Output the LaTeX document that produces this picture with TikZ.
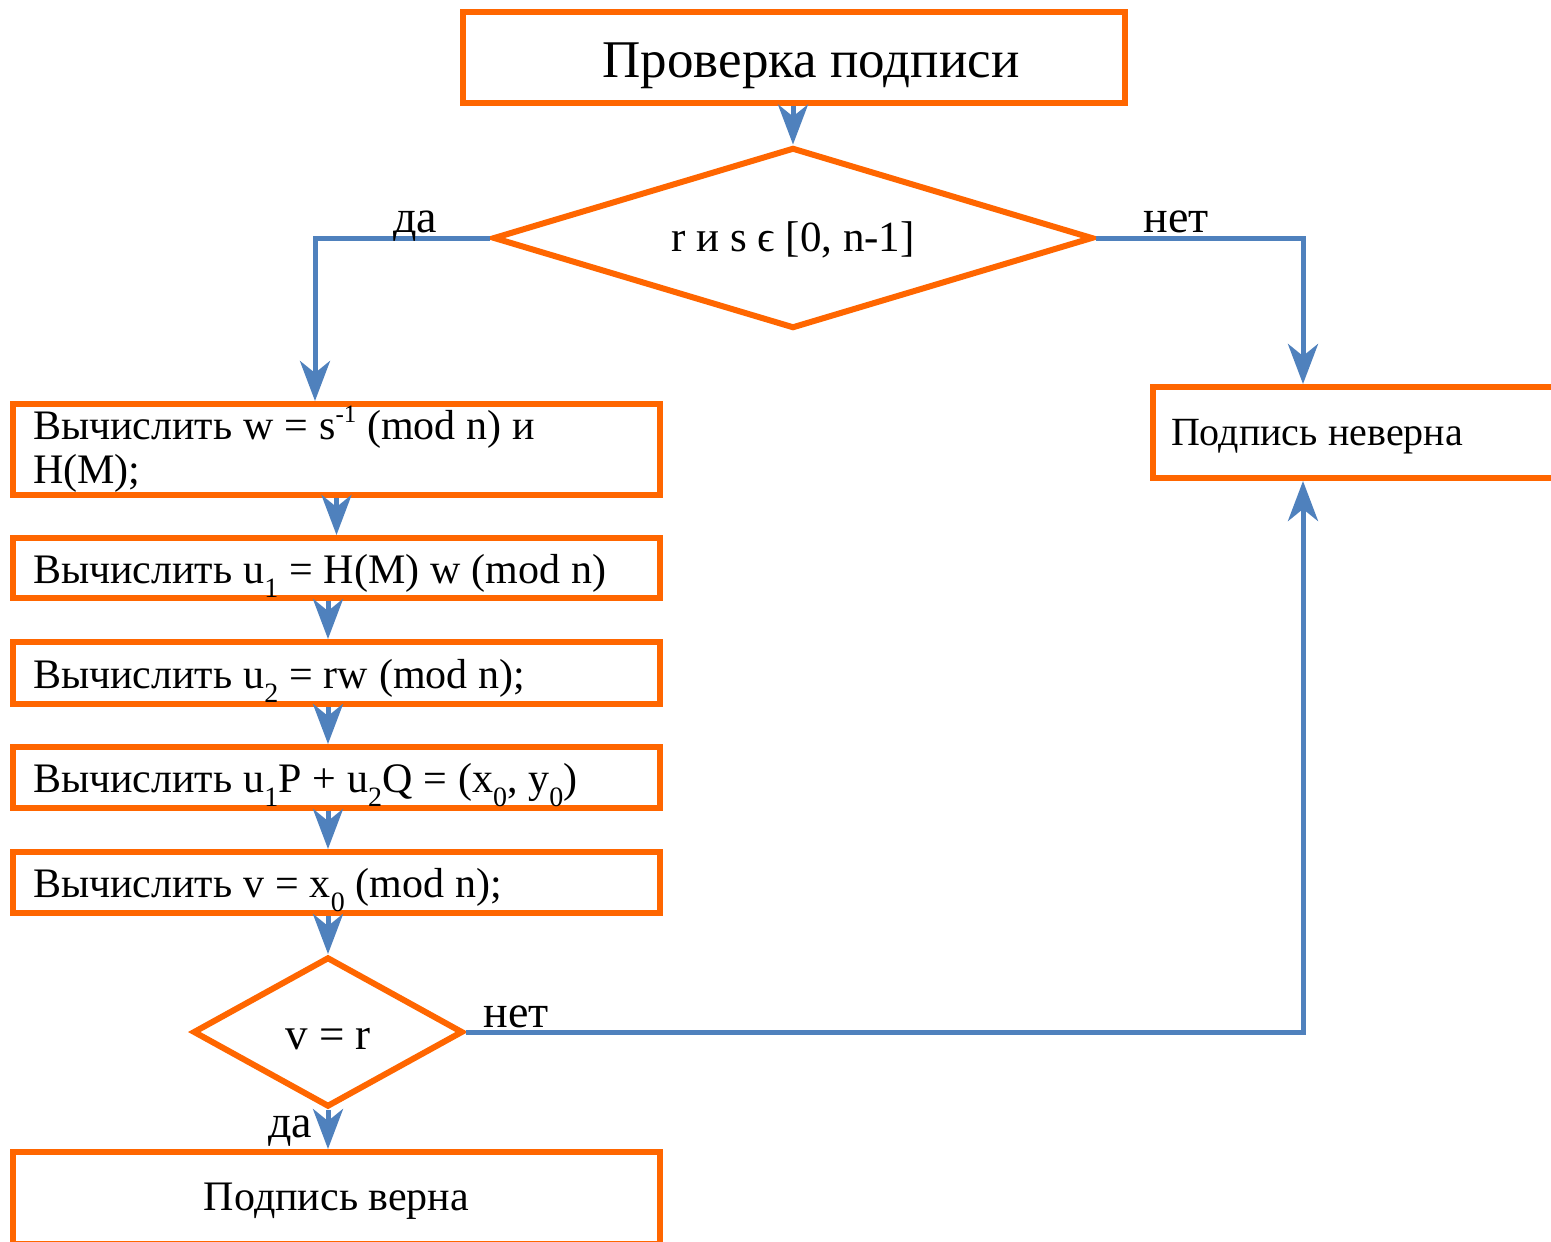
\documentclass[tikz,border=0pt]{standalone}
\usepackage{fontspec}
\setmainfont{Liberation Serif}
\usetikzlibrary{shapes.geometric,arrows.meta}
\definecolor{borange}{HTML}{FF6600}
\definecolor{lblue}{HTML}{4F81BD}
\newcommand\dnidx[1]{\raisebox{-14pt}{\fontsize{28}{28}\selectfont #1}}
\newcommand\upidx[1]{\raisebox{17pt}{\fontsize{25}{25}\selectfont #1}}
\newcommand\tsp{\spaceskip=0.26em\relax}
\begin{document}
\begin{tikzpicture}[x=1pt,y=-1pt,
  box/.style={draw=borange,line width=6pt,rectangle,inner sep=0pt,fill=white},
  lbox/.style={box,minimum width=647pt,text width=607pt,align=left,
    font=\fontsize{42}{44}\selectfont},
  onel/.style={text height=30pt,text depth=0pt},
  dia/.style={draw=borange,line width=6pt,diamond,inner sep=0pt},
  arr/.style={draw=lblue,line width=5pt,-{Stealth[length=40pt,width=30pt,inset=12pt]}},
  lab/.style={font=\fontsize{46}{46}\selectfont,inner sep=0pt,anchor=base}]
\useasboundingbox (0,0) rectangle (1551,1242);
\fill[white] (0,0) rectangle (1551,1242);
% nodes
\node[box,minimum width=662pt,minimum height=91pt,font=\fontsize{53}{53}\selectfont,
  text height=39pt,text depth=0pt] (title) at (794,57.5) {\hspace*{34pt}Проверка подписи};
\node[dia,aspect=3.31,minimum width=600pt,minimum height=181pt,
  font=\fontsize{43}{43}\selectfont,text height=26pt,text depth=0pt] (d1) at (793,238) {r и s ϵ [0, n-1]};
\node[lbox,minimum height=91pt] (b1) at (336.5,449.5) {\tsp Вычислить w = s\upidx{-1} (mod n) и\\H(M);};
\node[lbox,onel,minimum height=60pt] (b2) at (336.5,568) {\tsp Вычислить u\dnidx{1} = H(M) w (mod n)};
\node[lbox,onel,minimum height=62pt] (b3) at (336.5,673) {\tsp Вычислить u\dnidx{2} = rw (mod n);};
\node[lbox,onel,minimum height=61pt] (b4) at (336.5,777.5) {\tsp Вычислить u\dnidx{1}P + u\dnidx{2}Q = (x\dnidx{0}, y\dnidx{0})};
\node[lbox,onel,minimum height=61pt] (b5) at (336.5,882.5) {\tsp Вычислить v = x\dnidx{0} (mod n);};
\node[dia,aspect=1.8,minimum width=270pt,minimum height=150pt,
  font=\fontsize{45}{45}\selectfont,text height=34pt,text depth=0pt] (d2) at (328,1032) {v = r};
\node[box,minimum width=647pt,minimum height=92pt,font=\fontsize{42}{42}\selectfont,
  text height=24pt,text depth=0pt] (b6) at (336.5,1198) {Подпись верна};
\node[box,minimum width=410pt,minimum height=91pt,text width=374pt,align=left,
  font=\fontsize{40}{40}\selectfont,text height=25pt,text depth=0pt] (rb) at (1358,432.5) {\tsp Подпись неверна};
% helper coordinates
\coordinate (yesx) at (315,0);
\coordinate (nox) at (1303,0);
\coordinate (colx) at (328,0);
% connectors
\draw[arr] (title.south -| d1.north) -- (d1.north);
\draw[arr] (d1.west) -| (yesx |- b1.north);
\draw[arr] (d1.east) -| (nox |- rb.north);
\draw[arr] (b1.south) -- (b2.north);
\draw[arr] (colx |- b2.south) -- (colx |- b3.north);
\draw[arr] (colx |- b3.south) -- (colx |- b4.north);
\draw[arr] (colx |- b4.south) -- (colx |- b5.north);
\draw[arr] (colx |- b5.south) -- (d2.north);
\draw[arr] (d2.south) -- (colx |- b6.north);
\draw[arr] (d2.east) -| (nox |- rb.south);
% labels
\node[lab] (l1) at (415,232) {да};
\node[lab] (l2) at (1176,232) {нет};
\node[lab] (l3) at (516,1027) {нет};
\node[lab] (l4) at (290,1137) {да};
\end{tikzpicture}
\end{document}
